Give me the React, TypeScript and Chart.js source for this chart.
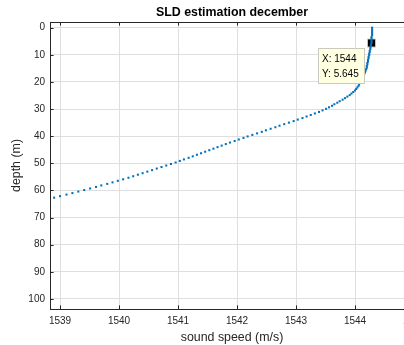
import React, { useEffect, useRef } from "react";
import { Chart, registerables } from "chart.js";

Chart.register(...registerables);

// depth (m) of each sample
const depthM = [
  0.0, 0.56, 1.13, 1.69, 2.26, 2.82, 3.39, 3.95, 4.52, 5.08,
  5.645, 6.21, 6.77, 7.34, 7.9, 8.47, 9.03, 9.6, 10.16, 10.73,
  11.29, 11.85, 12.42, 12.98, 13.55, 14.11, 14.68, 15.24, 15.81, 16.37,
  16.94, 17.5, 18.06, 18.63, 19.19, 19.76, 20.32, 20.89, 21.45, 22.02,
  22.58, 23.14, 23.71, 24.27, 24.84, 25.4, 25.97, 26.53, 27.1, 27.66,
  28.23, 28.79, 29.35, 29.92, 30.48, 31.05, 31.61, 32.18, 32.74, 33.31,
  33.87, 34.43, 35.0, 35.56, 36.13, 36.69, 37.26, 37.82, 38.39, 38.95,
  39.52, 40.08, 40.64, 41.21, 41.77, 42.34, 42.9, 43.47, 44.03, 44.6,
  45.16, 45.72, 46.29, 46.85, 47.42, 47.98, 48.55, 49.11, 49.68, 50.24,
  50.81, 51.37, 51.93, 52.5, 53.06, 53.63, 54.19, 54.76, 55.32, 55.89,
  56.45, 57.02, 57.58, 58.14, 58.71, 59.27, 59.84, 60.4, 60.97, 61.53,
  62.1, 62.66,
];

// sound speed (m/s) of each sample
const soundSpeed = [
  1544.29, 1544.29, 1544.29, 1544.29, 1544.29, 1544.29, 1544.28, 1544.28, 1544.28, 1544.28,
  1544.28, 1544.27, 1544.27, 1544.26, 1544.26, 1544.25, 1544.25, 1544.24, 1544.24, 1544.23,
  1544.23, 1544.22, 1544.22, 1544.21, 1544.21, 1544.2, 1544.2, 1544.19, 1544.18, 1544.17,
  1544.16, 1544.15, 1544.14, 1544.13, 1544.12, 1544.11, 1544.09, 1544.07, 1544.06, 1544.04,
  1544.02, 1544.0, 1543.97, 1543.94, 1543.91, 1543.87, 1543.83, 1543.79, 1543.74, 1543.7,
  1543.65, 1543.61, 1543.56, 1543.51, 1543.45, 1543.39, 1543.32, 1543.25, 1543.18, 1543.11,
  1543.03, 1542.96, 1542.88, 1542.8, 1542.72, 1542.65, 1542.57, 1542.49, 1542.42, 1542.34,
  1542.26, 1542.18, 1542.11, 1542.03, 1541.96, 1541.88, 1541.81, 1541.74, 1541.67, 1541.6,
  1541.53, 1541.46, 1541.39, 1541.32, 1541.25, 1541.18, 1541.1, 1541.03, 1540.96, 1540.88,
  1540.8, 1540.72, 1540.64, 1540.56, 1540.48, 1540.4, 1540.32, 1540.24, 1540.16, 1540.07,
  1539.98, 1539.89, 1539.8, 1539.7, 1539.61, 1539.51, 1539.41, 1539.31, 1539.21, 1539.11,
  1539.0, 1538.9,
];

const xTicks = [1539, 1540, 1541, 1542, 1543, 1544, 1545];
const yTicks = [0, 10, 20, 30, 40, 50, 60, 70, 80, 90, 100];

const tipX = 1544.28;
const tipY = 5.645;
const tipLabels = ["X: 1544", "Y: 5.645"];

const titleText = "SLD estimation december";
const xLabel = "sound speed (m/s)";
const yLabel = "depth (m)";

const FONT = "'Liberation Sans', Arial, Helvetica, sans-serif";
const AXIS_COLOR = "#262626";
const GRID_COLOR = "#dfdfdf";
const LINE_BLUE = "#0072BD";

const decorPlugin = {
  id: "decor",
  afterDraw(chart: any) {
    const { ctx, chartArea: a, scales } = chart;
    ctx.save();
    // top border of box
    ctx.strokeStyle = AXIS_COLOR;
    ctx.lineWidth = 1;
    ctx.beginPath();
    ctx.moveTo(a.left, Math.round(a.top) + 0.5);
    ctx.lineTo(a.right, Math.round(a.top) + 0.5);
    ctx.stroke();
    // inward tick marks
    const tl = 3.6;
    ctx.beginPath();
    xTicks.forEach((v) => {
      const px = Math.round(scales.x.getPixelForValue(v)) + 0.5;
      ctx.moveTo(px, a.bottom);
      ctx.lineTo(px, a.bottom - tl);
      ctx.moveTo(px, a.top);
      ctx.lineTo(px, a.top + tl);
    });
    yTicks.forEach((v) => {
      const py = Math.round(scales.y.getPixelForValue(v)) + 0.5;
      ctx.moveTo(a.left, py);
      ctx.lineTo(a.left + tl, py);
    });
    ctx.stroke();

    // title
    const cxA = (a.left + a.right) / 2;
    ctx.fillStyle = "#000";
    ctx.font = `bold 12.4px ${FONT}`;
    ctx.textAlign = "center";
    ctx.textBaseline = "middle";
    ctx.fillText(titleText, cxA, 12.5);
    // x label
    ctx.fillStyle = AXIS_COLOR;
    ctx.font = `12.4px ${FONT}`;
    ctx.fillText(xLabel, cxA, 338);
    // y label
    ctx.save();
    ctx.translate(17, (a.top + a.bottom) / 2);
    ctx.rotate(-Math.PI / 2);
    ctx.fillText(yLabel, 0, 0);
    ctx.restore();

    // data tip
    const meta = chart.getDatasetMeta(1);
    const pt = meta && meta.data[0];
    if (pt) {
      const bx = Math.round(pt.x - 53.5) + 0.5;
      const by = Math.round(pt.y + 5) + 0.5;
      const bw = 46;
      const bh = 35;
      ctx.fillStyle = "#ffffe1";
      ctx.fillRect(bx, by, bw, bh);
      ctx.strokeStyle = "#c9c9c0";
      ctx.strokeRect(bx, by, bw, bh);
      ctx.fillStyle = "#000";
      ctx.font = `10px ${FONT}`;
      ctx.textAlign = "left";
      ctx.textBaseline = "middle";
      ctx.fillText(tipLabels[0], bx + 3.5, by + 11);
      ctx.fillText(tipLabels[1], bx + 3.5, by + 26);
    }
    ctx.restore();
  },
};

export default function App() {
  const ref = useRef<HTMLCanvasElement | null>(null);

  useEffect(() => {
    document.body.style.margin = "0";
    document.body.style.overflow = "hidden";
    const canvas = ref.current;
    if (!canvas) return;
    const points = depthM.map((d, i) => ({ x: soundSpeed[i], y: d }));
    const chart = new Chart(canvas, {
      type: "scatter",
      data: {
        datasets: [
          {
            data: points,
            showLine: false,
            pointStyle: "rect",
            pointRadius: 1.45,
            pointBorderWidth: 0,
            backgroundColor: LINE_BLUE,
            borderColor: LINE_BLUE,
          },
          {
            data: [{ x: tipX, y: tipY }],
            showLine: false,
            pointStyle: "rect",
            pointRadius: 5.7,
            pointBorderWidth: 1,
            backgroundColor: "#000",
            borderColor: "#cfc8a0",
          },
        ],
      },
      options: {
        animation: false,
        responsive: false,
        events: [],
        layout: { padding: { top: 22, right: 48, left: 0, bottom: 0 } },
        plugins: {
          legend: { display: false },
          tooltip: { enabled: false },
          title: { display: false },
        },
        scales: {
          x: {
            type: "linear",
            min: 1538.83,
            max: 1545,
            afterFit: (s: any) => {
              s.height = 36;
            },
            afterBuildTicks: (s: any) => {
              s.ticks = xTicks.map((v) => ({ value: v }));
            },
            grid: { color: GRID_COLOR, drawTicks: false, lineWidth: 1 },
            border: { display: true, color: AXIS_COLOR, width: 1 },
            ticks: {
              padding: 6,
              color: AXIS_COLOR,
              font: { family: FONT, size: 10 },
              maxRotation: 0,
              autoSkip: false,
              callback: (v: any) => String(v),
            },
          },
          y: {
            type: "linear",
            reverse: true,
            min: -2.1,
            max: 103.7,
            afterFit: (s: any) => {
              s.width = 50;
            },
            afterBuildTicks: (s: any) => {
              s.ticks = yTicks.map((v) => ({ value: v }));
            },
            grid: { color: GRID_COLOR, drawTicks: false, lineWidth: 1 },
            border: { display: true, color: AXIS_COLOR, width: 1 },
            ticks: {
              padding: 5,
              color: AXIS_COLOR,
              font: { family: FONT, size: 10 },
              autoSkip: false,
              callback: (v: any) => String(v),
            },
          },
        },
      },
      plugins: [decorPlugin],
    });
    return () => chart.destroy();
  }, []);

  return (
    <div style={{ width: 404, height: 345, overflow: "hidden", position: "relative", background: "#fff" }}>
      <canvas ref={ref} width={462} height={345} style={{ display: "block" }} />
    </div>
  );
}
